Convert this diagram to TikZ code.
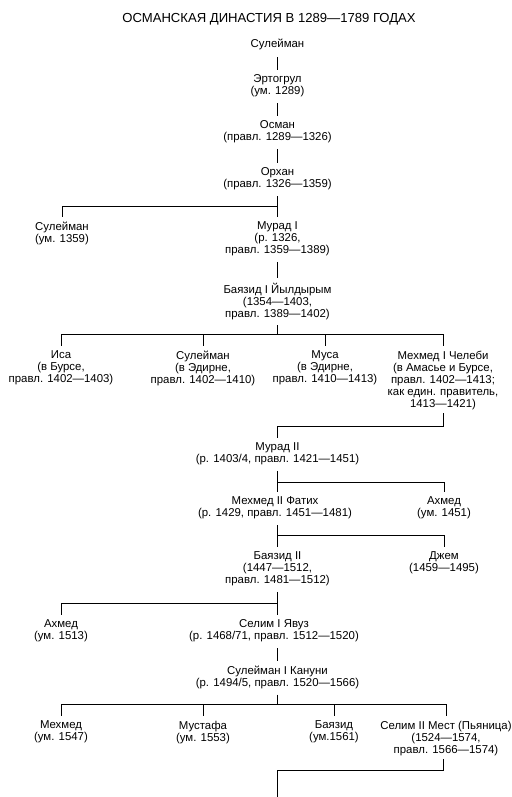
\documentclass[tikz,border=0pt]{standalone}
\usepackage{fontspec}
\setmainfont{Liberation Sans}
\usetikzlibrary{calc}
\newcommand{\pfont}{\fontsize{11.4}{12}\selectfont}
\newcommand{\tfont}{\fontsize{13.1}{14}\selectfont}
\begin{document}
\begin{tikzpicture}[x=1pt,y=-1pt,
  person/.style={align=center, inner sep=0pt, anchor=north, font=\pfont, execute at begin node=\strut},
  tree/.style={line width=1pt, black},
  gapin/.style={shorten <=4.5pt},
  gapout/.style={shorten >=4.5pt}]
\useasboundingbox (0,0) rectangle (511,797);
\node[font=\tfont, anchor=base, inner sep=0pt] (title) at (269,22.5) {ОСМАНСКАЯ ДИНАСТИЯ В 1289—1789 ГОДАХ};

\node[person] (sul0) at (277.5,38.6) {Сулейман};
\node[person] (ert) at (277.5,74.6) {Эртогрул\\(ум. 1289)};
\node[person] (osm) at (277.5,120.6) {Осман\\(правл. 1289—1326)};
\node[person] (orh) at (277.5,167.6) {Орхан\\(правл. 1326—1359)};
\node[person] (sulA) at (62,221.6) {Сулейман\\(ум. 1359)};
\node[person] (mur1) at (277.5,221.6) {Мурад I\\(р. 1326,\\правл. 1359—1389)};
\node[person] (bay1) at (277.5,282.6) {Баязид I Йылдырым\\(1354—1403,\\правл. 1389—1402)};
\node[person] (isa) at (61,350.6) {Иса\\(в Бурсе,\\правл. 1402—1403)};
\node[person] (sulB) at (203,350.6) {Сулейман\\(в Эдирне,\\правл. 1402—1410)};
\node[person] (musa) at (325,350.6) {Муса\\(в Эдирне,\\правл. 1410—1413)};
\node[person] (meh1) at (443,350.6) {Мехмед I Челеби\\(в Амасье и Бурсе,\\правл. 1402—1413;\\как един. правитель,\\1413—1421)};
\node[person] (mur2) at (277.5,442.6) {Мурад II\\(р. 1403/4, правл. 1421—1451)};
\node[person] (meh2) at (275,496.6) {Мехмед II Фатих\\(р. 1429, правл. 1451—1481)};
\node[person] (ahmA) at (444,496.6) {Ахмед\\(ум. 1451)};
\node[person] (bay2) at (277.5,551.6) {Баязид II\\(1447—1512,\\правл. 1481—1512)};
\node[person] (djem) at (444,551.6) {Джем\\(1459—1495)};
\node[person] (ahmB) at (61,619.6) {Ахмед\\(ум. 1513)};
\node[person] (sel1) at (274,619.6) {Селим I Явуз\\(р. 1468/71, правл. 1512—1520)};
\node[person] (sul1) at (277.5,665.6) {Сулейман I Кануни\\(р. 1494/5, правл. 1520—1566)};
\node[person] (mehB) at (61,720.6) {Мехмед\\(ум. 1547)};
\node[person] (must) at (203,720.6) {Мустафа\\(ум. 1553)};
\node[person] (bayB) at (334,720.6) {Баязид\\(ум.1561)};
\node[person] (sel2) at (446,720.6) {Селим II Мест (Пьяница)\\(1524—1574,\\правл. 1566—1574)};

% junctions
\coordinate (j1) at (277.5,206.5);
\coordinate (j2) at (277.5,334);
\coordinate (j3) at (277.5,426);
\coordinate (j4) at (277.5,482);
\coordinate (j5) at (277.5,535);
\coordinate (j6) at (277.5,603);
\coordinate (j7) at (277.5,704);
\coordinate (j8) at (277.5,770);
\coordinate (bottom) at (277.5,797);

\draw[tree, shorten <=6pt, gapout] (sul0.south) -- (ert.north);
\draw[tree, gapin, gapout] (ert.south) -- (osm.north);
\draw[tree, gapin, gapout] (osm.south) -- (orh.north);

\draw[tree, gapin] (orh.south) -- (j1);
\draw[tree, gapout] (j1) -| (sulA.north);
\draw[tree, gapout] (j1) -- (mur1.north);

\draw[tree, gapin, gapout] (mur1.south) -- (bay1.north);

\draw[tree, gapin] (bay1.south) -- (j2);
\draw[tree, gapout] (j2) -| (isa.north);
\draw[tree, gapout] (j2) -| (sulB.north);
\draw[tree, gapout] (j2) -| (musa.north);
\draw[tree, gapout] (j2) -| (meh1.north);

\draw[tree, shorten <=2.5pt, gapout] (meh1.south) |- (j3) -- (mur2.north);

\draw[tree, gapin] (mur2.south) -- (j4);
\draw[tree, gapout] (j4) -- (j4 |- meh2.north);
\draw[tree, gapout] (j4) -| (ahmA.north);

\draw[tree, gapin] (meh2.south -| j5) -- (j5);
\draw[tree, gapout] (j5) -- (bay2.north);
\draw[tree, gapout] (j5) -| (djem.north);

\draw[tree, gapin] (bay2.south) -- (j6);
\draw[tree, gapout] (j6) -| (ahmB.north);
\draw[tree, gapout] (j6) -- (j6 |- sel1.north);

\draw[tree, gapin, gapout] (sel1.south -| sul1.south) -- (sul1.north);

\draw[tree, gapin] (sul1.south) -- (j7);
\draw[tree, gapout] (j7) -| (mehB.north);
\draw[tree, gapout] (j7) -| (must.north);
\draw[tree, gapout] (j7) -| (bayB.north);
\draw[tree, gapout] (j7) -| (sel2.north);

\draw[tree, shorten <=2pt] (sel2.south -| meh1.south) |- (j8) -- (bottom);
\end{tikzpicture}
\end{document}
